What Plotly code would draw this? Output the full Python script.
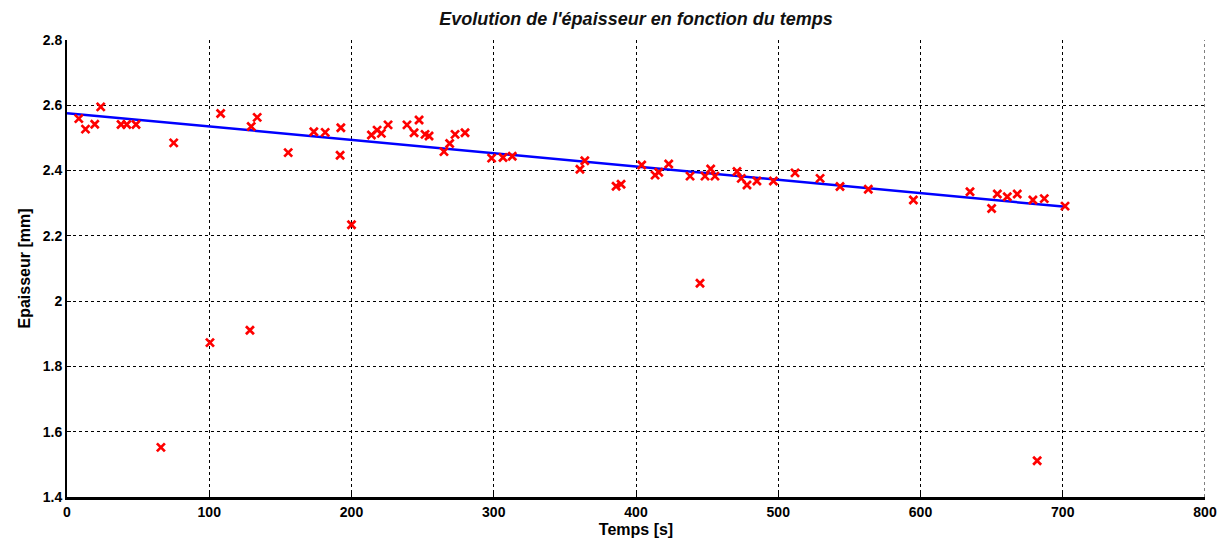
import plotly.graph_objects as go

# Measured data: time [s] and thickness [mm]
temps = [8.3, 13, 19.5, 23.7, 38, 42, 48.5, 66, 75, 100.5, 108, 128.6, 129.5, 133.7,
         155.5, 173.5, 181.5, 192, 192.5, 200, 214, 218, 221, 225.7, 239, 244, 247.5,
         251.7, 254.5, 265, 269, 272.8, 279.8, 298.5, 306.5, 313, 360.6, 364, 386,
         389.5, 404, 413.4, 416, 423, 438, 445, 448.5, 452.5, 455.5, 471, 474, 478,
         485, 496.6, 511.8, 529.4, 543.4, 563.3, 595, 634.8, 650, 654, 661, 668,
         679, 682, 687, 701.6]
epaisseur = [2.559, 2.527, 2.542, 2.595, 2.541, 2.541, 2.541, 1.552, 2.485, 1.873, 2.575,
             1.911, 2.535, 2.563, 2.455, 2.519, 2.517, 2.447, 2.531, 2.234, 2.509, 2.524,
             2.514, 2.54, 2.54, 2.516, 2.555, 2.511, 2.506, 2.458, 2.483, 2.511, 2.516,
             2.438, 2.44, 2.444, 2.404, 2.43, 2.352, 2.358, 2.417, 2.386, 2.395, 2.42,
             2.383, 2.055, 2.383, 2.405, 2.383, 2.397, 2.376, 2.356, 2.368, 2.368, 2.393,
             2.376, 2.351, 2.343, 2.31, 2.335, 2.284, 2.328, 2.32, 2.328, 2.31, 1.511,
             2.314, 2.291]

# Linear fit line endpoints
fit_t = [0, 702]
fit_e = [2.576, 2.289]

x_ticks = [0, 100, 200, 300, 400, 500, 600, 700, 800]
y_ticks = [1.4, 1.6, 1.8, 2.0, 2.2, 2.4, 2.6, 2.8]
y_tick_labels = ["1.4", "1.6", "1.8", "2", "2.2", "2.4", "2.6", "2.8"]

fig = go.Figure()
fig.add_trace(go.Scatter(x=fit_t, y=fit_e, mode="lines",
                         line=dict(color="#0000ff", width=2.5), showlegend=False))
fig.add_trace(go.Scatter(x=temps, y=epaisseur, mode="markers",
                         marker=dict(symbol="x-thin", size=8, color="#ff0000",
                                     line=dict(color="#ff0000", width=2.7)),
                         showlegend=False))

font_fam = "Liberation Sans, Arial, sans-serif"
grid_dash = "3px,3px"

# dashed border line at right edge (x = 800), matching the grid style
fig.add_shape(type="line", xref="x", yref="paper", x0=x_ticks[-1], x1=x_ticks[-1],
              y0=0, y1=1, line=dict(color="#000", width=1, dash=grid_dash), layer="below")

fig.update_layout(
    width=1228, height=550,
    margin=dict(l=67, r=23, t=40, b=53),
    paper_bgcolor="white", plot_bgcolor="white",
    title=dict(text="Evolution de l'épaisseur en fonction du temps",
               x=(67 + 1205) / 2 / 1228, xanchor="center", y=0.966, yanchor="middle",
               font=dict(family=font_fam, size=18, color="#111", style="italic",
                         weight="bold")),
    xaxis=dict(range=[0, 800], tickvals=x_ticks, ticks="inside", ticklen=4,
               tickcolor="black", showgrid=True, gridcolor="#000", griddash=grid_dash,
               gridwidth=1, zeroline=False, showline=True, linecolor="black",
               linewidth=3, mirror=False,
               tickfont=dict(family=font_fam, size=14, color="black", weight="bold"),
               title=dict(text="Temps [s]", standoff=6,
                          font=dict(family=font_fam, size=16, color="black", weight="bold"))),
    yaxis=dict(range=[1.4, 2.8], tickvals=y_ticks, ticktext=y_tick_labels,
               ticks="inside", ticklen=4, tickcolor="black",
               showgrid=True, gridcolor="#000", griddash=grid_dash, gridwidth=1,
               zeroline=False, showline=True, linecolor="black", linewidth=2,
               tickfont=dict(family=font_fam, size=14, color="black", weight="bold"),
               title=dict(text="Epaisseur [mm]", standoff=8,
                          font=dict(family=font_fam, size=16, color="black", weight="bold"))),
)

fig.write_html("out.html")
